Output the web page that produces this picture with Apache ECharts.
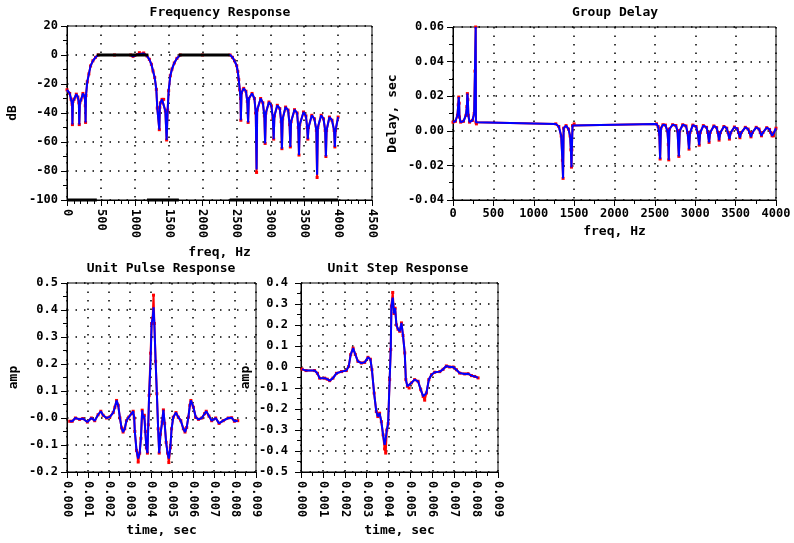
<!DOCTYPE html>
<html><head><meta charset="utf-8">
<script src="https://cdn.jsdelivr.net/npm/echarts@6/dist/echarts.min.js"></script>
<style>html,body{margin:0;padding:0;background:#fff}#c{width:794px;height:543px}</style>
</head><body><div id="c"></div>
<script>
// ---------- DATA ----------
// Frequency response [Hz, dB]
const freqResp = [
 [0,-24],[40,-26.5],[60,-30.5],[75,-34],[80,-48],[88,-32],[105,-30.5],[137,-27],[160,-29],[175,-33],[181,-48],[190,-33],[206,-31],[235,-26.5],[262,-29],[270,-35],[274,-46.5],[280,-28],
 [299,-18.5],[323,-13],[348,-7.5],[382,-4],[421,-1.6],[460,0],[700,0],[940,0],[975,-0.9],[1000,-0.3],[1040,0.3],[1068,1],[1132,1],
 [1181,-0.7],[1215,-3],[1245,-6.4],[1269,-11],[1294,-15.6],[1318,-23.7],[1332,-36.6],[1362,-51.5],[1370,-36],[1377,-33],[1402,-30.6],[1426,-30.6],[1451,-38.6],[1470,-58.6],[1485,-38],
 [1500,-24.6],[1524,-14.3],[1549,-9.7],[1583,-5.5],[1622,-2.3],[1671,0],[2000,0],[2406,0],
 [2441,-1.6],[2471,-4],[2504,-7.4],[2520,-11.5],[2534,-17],[2549,-24],[2560,-30],[2565,-45],[2575,-26],[2607,-23],[2640,-25],[2660,-32],[2672,-46.5],[2683,-30],
 [2730,-26.5],[2765,-30],[2785,-40],[2797,-79],[2806,-38],[2857,-30],[2890,-33],[2912,-42],[2923,-61],[2934,-40],[2980,-32.4],[3015,-35],[3038,-44],[3049,-58],[3060,-42],
 [3103,-34.7],[3140,-37],[3160,-46],[3171,-64.6],[3182,-44],[3225,-35.9],[3262,-38],[3284,-48],[3295,-63.4],[3306,-46],[3357,-37.7],[3395,-40],[3412,-50],[3423,-69],[3434,-48],
 [3490,-39.3],[3525,-42],[3543,-50],[3553,-58],[3563,-50],[3612,-41.6],[3650,-44],[3679,-52],[3690,-82.5],[3701,-50],[3750,-41.6],[3785,-44],[3809,-52],[3820,-70],[3830,-52],
 [3872,-42.8],[3910,-45],[3941,-52],[3952,-63.4],[3962,-52],[4000,-42.8]
];
// points where the red (second) response departs from the blue one [Hz, dB]
const freqRespRedTips = [[2797,-81],[3690,-84.5],[1068,1.6],[1132,1.4]];
// spec mask segments [fromHz, toHz]
const passBands = [[440,1200],[1650,2400]];
const stopBands = [[0,440],[1180,1650],[2400,4000]];
const passLevelDb = 0, stopLevelDb = -100;

// Group delay [Hz, sec]
const groupDelay = [
 [0,0.005],[30,0.0055],[55,0.009],[65,0.015],[71,0.0195],[76,0.016],[80,0.008],[95,0.005],[130,0.0055],[160,0.009],[172,0.014],[178,0.0215],[184,0.018],[190,0.009],[205,0.005],
 [240,0.006],[262,0.01],[272,0.0345],[281,0.06],[284,0.005],[290,0.004],[1273,0.004],[1310,0.0025],[1340,-0.003],[1355,-0.017],[1363,-0.0275],[1370,0.0015],[1400,0.003],
 [1430,0.001],[1450,-0.003],[1460,-0.011],[1467,-0.021],[1472,-0.011],[1480,0.003],[1500,0.004],[2520,0.004],
 [2540,0.0025],[2555,-0.002],[2565,-0.0163],[2575,0.0015],[2600,0.0035],[2630,0.0033],[2655,0.0],[2667,-0.008],[2672,-0.0168],[2680,0.001],[2720,0.0035],[2760,0.003],
 [2780,0.0],[2797,-0.0148],[2808,0.0],[2845,0.0035],[2885,0.0028],[2905,-0.001],[2923,-0.0106],[2935,-0.001],[2970,0.0033],[3010,0.0025],[3030,-0.001],[3049,-0.0083],
 [3062,-0.001],[3100,0.003],[3140,0.002],[3155,-0.001],[3171,-0.0067],[3185,-0.001],[3230,0.0028],[3265,0.0018],[3280,-0.001],[3295,-0.0054],[3312,-0.001],[3355,0.0025],
 [3390,0.0015],[3405,-0.001],[3423,-0.0048],[3440,-0.001],[3485,0.0022],[3520,0.0012],[3535,-0.001],[3553,-0.004],[3570,-0.001],[3620,0.002],[3655,0.001],[3672,-0.001],
 [3690,-0.0035],[3708,-0.001],[3755,0.002],[3790,0.001],[3805,-0.001],[3820,-0.0029],[3838,-0.001],[3885,0.0018],[3920,0.0008],[3935,-0.001],[3952,-0.0029],[3970,-0.0015],[4000,0.0015]
];
const groupDelayRedTips = [[281,0.06],[272,0.0345],[2668,-0.0077],[3968,-0.0029]];

// Unit pulse response [ms, amp]
const pulseResp = [
 [0.13,-0.012],[0.25,-0.012],[0.40,0.0],[0.6,-0.005],[0.75,-0.002],[0.97,-0.015],[1.16,0.0],[1.32,-0.01],[1.48,0.012],[1.61,0.025],[1.72,0.01],[1.88,0.0],[2.04,0.004],
 [2.2,0.02],[2.28,0.04],[2.36,0.065],[2.44,0.047],[2.52,0.0],[2.6,-0.037],[2.67,-0.052],[2.75,-0.04],[2.83,-0.01],[2.94,0.003],[3.07,0.016],[3.15,0.025],[3.2,0.0],
 [3.23,-0.05],[3.31,-0.12],[3.39,-0.15],[3.46,-0.13],[3.52,-0.075],[3.58,0.029],[3.63,0.0],[3.68,0.01],[3.73,-0.05],[3.78,-0.11],[3.83,-0.13],[3.87,-0.025],[3.91,0.084],
 [3.98,0.21],[4.03,0.35],[4.08,0.37],[4.12,0.41],[4.16,0.35],[4.22,0.21],[4.28,0.09],[4.34,-0.04],[4.39,-0.13],[4.45,-0.06],[4.53,-0.015],[4.59,0.03],[4.65,-0.02],
 [4.72,-0.09],[4.79,-0.13],[4.85,-0.15],[4.92,-0.11],[4.98,-0.04],[5.06,0.003],[5.19,0.02],[5.3,0.003],[5.42,-0.01],[5.54,-0.04],[5.62,-0.052],[5.7,-0.035],[5.78,0.003],
 [5.85,0.047],[5.9,0.065],[6.02,0.04],[6.13,0.003],[6.26,-0.005],[6.42,0.0],[6.55,0.016],[6.63,0.025],[6.76,0.007],[6.89,-0.01],[7.08,0.0],[7.24,-0.02],[7.44,-0.01],
 [7.68,0.0],[7.84,0.001],[7.97,-0.012],[8.13,-0.01]
];
const pulseRedTips = [[4.12,0.455],[3.39,-0.163],[4.85,-0.165],[4.08,0.37],[3.98,0.24]];

// Unit step response [ms, amp]
const stepResp = [
 [0.05,-0.01],[0.23,-0.017],[0.62,-0.017],[0.75,-0.03],[0.85,-0.053],[1.08,-0.053],[1.2,-0.058],[1.31,-0.065],[1.46,-0.053],[1.62,-0.03],[1.85,-0.022],[2.07,-0.017],
 [2.18,0.003],[2.27,0.059],[2.38,0.09],[2.48,0.06],[2.6,0.027],[2.76,0.019],[2.91,0.022],[3.06,0.046],[3.17,0.037],[3.24,-0.013],[3.34,-0.124],[3.44,-0.212],[3.51,-0.236],
 [3.59,-0.22],[3.67,-0.26],[3.75,-0.323],[3.82,-0.371],[3.87,-0.34],[3.92,-0.30],[3.98,-0.27],[4.05,-0.06],[4.1,0.083],[4.13,0.29],[4.19,0.33],[4.25,0.255],[4.3,0.28],
 [4.36,0.2],[4.43,0.18],[4.51,0.17],[4.59,0.21],[4.66,0.15],[4.74,0.067],[4.79,-0.06],[4.86,-0.092],[4.94,-0.1],[5.04,-0.076],[5.19,-0.06],[5.35,-0.068],[5.47,-0.108],
 [5.58,-0.14],[5.65,-0.148],[5.73,-0.124],[5.84,-0.06],[5.96,-0.037],[6.11,-0.025],[6.34,-0.022],[6.49,-0.011],[6.64,0.005],[6.79,0.0],[6.95,0.0],[7.1,-0.013],
 [7.25,-0.029],[7.48,-0.033],[7.63,-0.032],[7.79,-0.041],[7.94,-0.045],[8.09,-0.052]
];
const stepRedTips = [[3.87,-0.41],[4.19,0.355],[5.65,-0.158],[3.82,-0.39]];

// tick labels
const pulseYTickLabels = ['-0.2','-0.1','-0.0','0.1','0.2','0.3','0.4','0.5'];
const stepYTickLabels = ['-0.5','-0.4','-0.3','-0.2','-0.1','0.0','0.1','0.2','0.3','0.4'];
const titles = ['Frequency Response','Group Delay','Unit Pulse Response','Unit Step Response'];

// ---------- CHART ----------
const FONT = '"DejaVu Sans Mono", "Liberation Mono", monospace';
const tickText = {fontFamily: FONT, fontSize: 12, fontWeight: 'bold', color: '#000'};
const nameText = {fontFamily: FONT, fontSize: 13, fontWeight: 'bold', color: '#000'};
const dotted = {show: true, lineStyle: {color: '#000', width: 1.5, type: [1.5, 7]}};

function withRed(base, tips) {
  const out = base.map(p => p.slice());
  tips.forEach(t => {
    const i = out.findIndex(p => p[0] === t[0]);
    if (i >= 0) out[i] = t.slice(); else out.push(t.slice());
  });
  out.sort((a, b) => a[0] - b[0]);
  return out;
}

function xAx(gi, min, max, interval, minorSplit, rotate, margin, name, gap, fmt) {
  return {
    gridIndex: gi, type: 'value', min, max, interval, position: 'bottom',
    axisLine: {show: true, onZero: false, lineStyle: {color: '#000', width: 1}},
    axisTick: {show: true, inside: false, length: 6, lineStyle: {color: '#000'}},
    minorTick: {show: true, splitNumber: minorSplit, length: 4, lineStyle: {color: '#000'}},
    axisLabel: Object.assign({rotate, margin, formatter: fmt, showMinLabel: true, showMaxLabel: true, hideOverlap: false}, tickText),
    splitLine: dotted,
    name, nameLocation: 'middle', nameGap: gap, nameTextStyle: nameText
  };
}
function yAx(gi, min, max, interval, minorSplit, margin, name, gap, fmt) {
  return {
    gridIndex: gi, type: 'value', min, max, interval, position: 'left',
    axisLine: {show: true, onZero: false, lineStyle: {color: '#000', width: 1}},
    axisTick: {show: true, inside: false, length: 6, lineStyle: {color: '#000'}},
    minorTick: {show: true, splitNumber: minorSplit, length: 4, lineStyle: {color: '#000'}},
    axisLabel: Object.assign({margin, formatter: fmt, showMinLabel: true, showMaxLabel: true}, tickText),
    splitLine: dotted,
    name, nameLocation: 'middle', nameRotate: 90, nameGap: gap, nameTextStyle: nameText
  };
}
function lbl(arr, min, step) { return v => arr[Math.round((v - min) / step)]; }

const gridStyle = {show: true, borderColor: '#000', borderWidth: 1, backgroundColor: '#fff'};
const grids = [
  Object.assign({left: 67, top: 26, width: 305, height: 174}, gridStyle),
  Object.assign({left: 453, top: 27, width: 323, height: 173}, gridStyle),
  Object.assign({left: 67, top: 283, width: 189, height: 189}, gridStyle),
  Object.assign({left: 301, top: 283, width: 197, height: 189}, gridStyle)
];

function blue(xi, data) {
  return {type: 'line', xAxisIndex: xi, yAxisIndex: xi, data, showSymbol: false, symbol: 'none',
    lineStyle: {color: '#0000ff', width: 2}, z: 5, animation: false, silent: true};
}
function red(xi, data) {
  return {type: 'line', xAxisIndex: xi, yAxisIndex: xi, data, showSymbol: true, symbol: 'rect', symbolSize: 3,
    itemStyle: {color: '#ff0000'}, lineStyle: {color: '#ff0000', width: 2}, z: 4, animation: false, silent: true};
}
function spec(level) {
  return seg => ({type: 'line', xAxisIndex: 0, yAxisIndex: 0, data: [[seg[0], level], [seg[1], level]],
    symbol: 'none', clip: false, lineStyle: {color: '#000', width: 3}, z: 6, animation: false, silent: true});
}

const titleFont = 'bold 13px ' + FONT;
const option = {
  animation: false,
  backgroundColor: '#fff',
  grid: grids,
  xAxis: [
    xAx(0, 0, 4500, 500, 5, -90, 9, 'freq, Hz', 46, v => String(v)),
    xAx(1, 0, 4000, 500, 2, 0, 8, 'freq, Hz', 25, v => String(v)),
    xAx(2, 0, 9, 1, 2, -90, 9, 'time, sec', 52, v => (v / 1000).toFixed(3)),
    xAx(3, 0, 9, 1, 2, -90, 9, 'time, sec', 52, v => (v / 1000).toFixed(3))
  ],
  yAxis: [
    yAx(0, -100, 20, 20, 2, 9, 'dB', 48, v => String(v)),
    yAx(1, -0.04, 0.06, 0.02, 2, 9, 'Delay, sec', 54, v => v.toFixed(2)),
    yAx(2, -0.2, 0.5, 0.1, 2, 9, 'amp', 47, lbl(pulseYTickLabels, -0.2, 0.1)),
    yAx(3, -0.5, 0.4, 0.1, 2, 13, 'amp', 49, lbl(stepYTickLabels, -0.5, 0.1))
  ],
  series: [
    red(0, withRed(freqResp, freqRespRedTips)), blue(0, freqResp),
    ...passBands.map(spec(passLevelDb)), ...stopBands.map(spec(stopLevelDb)),
    red(1, withRed(groupDelay, groupDelayRedTips)), blue(1, groupDelay),
    red(2, withRed(pulseResp, pulseRedTips)), blue(2, pulseResp),
    red(3, withRed(stepResp, stepRedTips)), blue(3, stepResp)
  ],
  graphic: [
    {type: 'text', x: 220, y: 13, style: {text: titles[0], font: titleFont, fill: '#000', align: 'center', verticalAlign: 'middle'}},
    {type: 'text', x: 615, y: 13, style: {text: titles[1], font: titleFont, fill: '#000', align: 'center', verticalAlign: 'middle'}},
    {type: 'text', x: 161, y: 269, style: {text: titles[2], font: titleFont, fill: '#000', align: 'center', verticalAlign: 'middle'}},
    {type: 'text', x: 398, y: 269, style: {text: titles[3], font: titleFont, fill: '#000', align: 'center', verticalAlign: 'middle'}}
  ]
};
const chart = echarts.init(document.getElementById('c'), null, {renderer: 'canvas'});
chart.setOption(option);
</script>
</body></html>
